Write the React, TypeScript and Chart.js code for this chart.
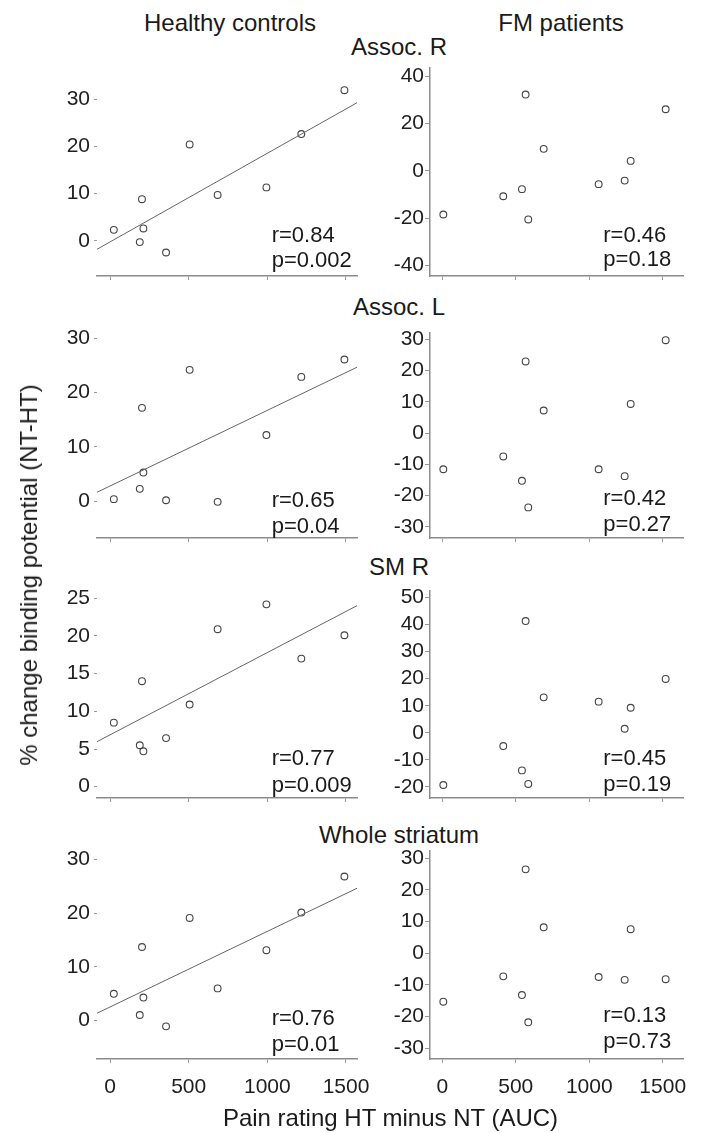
import React, { useEffect, useRef } from "react";
import { Chart, registerables } from "chart.js";
Chart.register(...registerables);

// ---------- data ----------
const hcPain = [24, 189, 203, 212, 356, 506, 684, 994, 1216, 1490];
const fmPain = [7, 415, 542, 567, 585, 690, 1064, 1241, 1282, 1520];

const regions = ["Assoc. R", "Assoc. L", "SM R", "Whole striatum"];

const hcAssocR = [2.3, -0.3, 8.8, 2.6, -2.5, 20.4, 9.7, 11.3, 22.6, 31.9];
const hcAssocL = [0.4, 2.3, 17.2, 5.3, 0.2, 24.2, -0.1, 12.2, 22.9, 26.1];
const hcSMR = [8.5, 5.5, 14.0, 4.7, 6.45, 10.9, 20.9, 24.2, 17.0, 20.1];
const hcWhole = [5.0, 1.06, 13.7, 4.3, -1.05, 19.1, 6.0, 13.1, 20.1, 26.8];

const fmAssocR = [-18.4, -10.7, -7.7, 32.2, -20.5, 9.3, -5.6, -4.1, 4.2, 26.0];
const fmAssocL = [-11.6, -7.5, -15.3, 22.9, -23.8, 7.2, -11.6, -13.8, 9.3, 29.7];
const fmSMR = [-19.3, -4.9, -13.9, 41.3, -18.9, 13.1, 11.5, 1.5, 9.25, 19.9];
const fmWhole = [-15.3, -7.3, -13.2, 26.5, -21.8, 8.2, -7.5, -8.4, 7.6, -8.2];

const hcFitIntercept = [-0.26, 2.82, 6.88, 2.55];
const hcFitSlope = [0.01879, 0.013926, 0.01092, 0.014053];

const hcStatsR = ["r=0.84", "r=0.65", "r=0.77", "r=0.76"];
const hcStatsP = ["p=0.002", "p=0.04", "p=0.009", "p=0.01"];
const fmStatsR = ["r=0.46", "r=0.42", "r=0.45", "r=0.13"];
const fmStatsP = ["p=0.18", "p=0.27", "p=0.19", "p=0.73"];

const xTicks = [0, 500, 1000, 1500];
const hcYTicks = [
  [0, 10, 20, 30],
  [0, 10, 20, 30],
  [0, 5, 10, 15, 20, 25],
  [0, 10, 20, 30],
];
const fmYTicks = [
  [-40, -20, 0, 20, 40],
  [-30, -20, -10, 0, 10, 20, 30],
  [-20, -10, 0, 10, 20, 30, 40, 50],
  [-30, -20, -10, 0, 10, 20, 30],
];

const hcSeries = [hcAssocR, hcAssocL, hcSMR, hcWhole];
const fmSeries = [fmAssocR, fmAssocL, fmSMR, fmWhole];

// ---------- layout ----------
const FONT = '"Liberation Sans", Arial, Helvetica, sans-serif';
const rowsTB = [
  [68, 276],
  [333, 538],
  [591, 798],
  [851, 1059],
];
const leftLR = [97, 357];
const rightLR = [430, 683];
const leftX = [-83, 1570];
const rightX = [-83.7, 1638];
const leftY = [
  [-7.48, 36.6],
  [-6.75, 30.98],
  [-1.5, 25.97],
  [-7.12, 31.54],
];
const rightY = [
  [-44.35, 43.4],
  [-33.6, 32.0],
  [-24.1, 52.4],
  [-33.4, 32.3],
];

type PanelProps = {
  L: number; T: number; R: number; B: number;
  xMin: number; xMax: number; yMin: number; yMax: number;
  yTicks: number[]; xs: number[]; ys: number[];
  showXLabels: boolean; showYBorder: boolean;
  fit?: [number, number];
  tickPad: number; tickLen: number;
};

const YW = 70;
const PT = 14;
const PR = 12;

function zeroPad(s: any) {
  s.paddingLeft = 0;
  s.paddingRight = 0;
  s.paddingTop = 0;
  s.paddingBottom = 0;
}

function Panel(p: PanelProps) {
  const ref = useRef<HTMLCanvasElement>(null);
  const XH = p.showXLabels ? 50 : 10;
  const width = p.R - p.L + YW + PR;
  const height = PT + (p.B - p.T) + XH;
  useEffect(() => {
    if (!ref.current) return;
    const datasets: any[] = [
      {
        data: p.xs.map((x, i) => ({ x, y: p.ys[i] })),
        pointStyle: "circle",
        pointRadius: 3.4,
        pointBorderWidth: 1.1,
        pointBorderColor: "#444",
        pointBackgroundColor: "rgba(0,0,0,0)",
        showLine: false,
      },
    ];
    if (p.fit) {
      const [a, b] = p.fit;
      datasets.unshift({
        data: [
          { x: p.xMin, y: a + b * p.xMin },
          { x: p.xMax, y: a + b * p.xMax },
        ],
        showLine: true,
        borderColor: "#666",
        borderWidth: 1,
        pointRadius: 0,
      });
    }
    const chart = new Chart(ref.current, {
      type: "scatter",
      data: { datasets },
      options: {
        responsive: false,
        animation: false,
        devicePixelRatio: 1,
        layout: { padding: { top: PT, right: PR, left: 0, bottom: 0 }, autoPadding: false },
        plugins: { legend: { display: false }, tooltip: { enabled: false }, title: { display: false } },
        scales: {
          x: {
            type: "linear",
            min: p.xMin,
            max: p.xMax,
            afterBuildTicks: (s: any) => {
              s.ticks = xTicks.map((v) => ({ value: v }));
            },
            afterFit: (s: any) => {
              s.height = XH;
              zeroPad(s);
            },
            grid: { drawOnChartArea: false, drawTicks: true, tickLength: 4, color: "#9a9a9a", lineWidth: 1 },
            border: { display: true, color: "#8c8c8c", width: 1.5 },
            ticks: {
              display: p.showXLabels,
              font: { family: FONT, size: 21 },
              color: "#1e1e1e",
              padding: 12,
              maxRotation: 0,
              autoSkip: false,
              callback: (v: any) => String(v),
            },
          },
          y: {
            type: "linear",
            min: p.yMin,
            max: p.yMax,
            afterBuildTicks: (s: any) => {
              s.ticks = p.yTicks.map((v) => ({ value: v }));
            },
            afterFit: (s: any) => {
              s.width = YW;
              zeroPad(s);
            },
            grid: { drawOnChartArea: false, drawTicks: true, tickLength: p.tickLen, color: "#9a9a9a", lineWidth: 1 },
            border: { display: p.showYBorder, color: "#8c8c8c", width: 1.5 },
            ticks: {
              font: { family: FONT, size: 21 },
              color: "#1e1e1e",
              padding: p.tickPad,
              autoSkip: false,
              callback: (v: any) => String(v),
            },
          },
        },
      } as any,
    });
    return () => chart.destroy();
  }, []);
  return (
    <canvas
      ref={ref}
      width={width}
      height={height}
      style={{ position: "absolute", left: p.L - YW, top: p.T - PT, width, height }}
    />
  );
}

const textBase: React.CSSProperties = {
  position: "absolute",
  fontFamily: FONT,
  color: "#1a1a1a",
  whiteSpace: "nowrap",
  margin: 0,
};

function Centered({ text, cx, cy, size }: { text: string; cx: number; cy: number; size: number }) {
  return (
    <div style={{ ...textBase, left: cx - 250, width: 500, textAlign: "center", top: cy - 14, lineHeight: "28px", fontSize: size }}>
      {text}
    </div>
  );
}

function Stat({ text, x, cy }: { text: string; x: number; cy: number }) {
  return (
    <div style={{ ...textBase, left: x, top: cy - 13, lineHeight: "26px", fontSize: 22 }}>{text}</div>
  );
}

const hcStatY = [
  [235, 260],
  [500, 526],
  [758.3, 785],
  [1018.3, 1044.3],
];
const fmStatY = [
  [235, 259.3],
  [498.3, 524],
  [758.3, 784.3],
  [1015, 1041],
];
const rowTitleY = [46.7, 306.7, 566.7, 835];

export default function App() {
  return (
    <div style={{ position: "absolute", left: 0, top: 0, width: 702, height: 1133, background: "#fff", overflow: "hidden" }}>
      <Centered text="Healthy controls" cx={230} cy={23} size={24} />
      <Centered text="FM patients" cx={561} cy={23} size={24} />
      {regions.map((r, i) => (
        <Centered key={"rt" + i} text={r} cx={399} cy={rowTitleY[i]} size={24} />
      ))}
      {rowsTB.map(([T, B], i) => (
        <React.Fragment key={"row" + i}>
          <Panel
            L={leftLR[0]} R={leftLR[1]} T={T} B={B}
            xMin={leftX[0]} xMax={leftX[1]} yMin={leftY[i][0]} yMax={leftY[i][1]}
            yTicks={hcYTicks[i]} xs={hcPain} ys={hcSeries[i]}
            showXLabels={i === 3} showYBorder={false}
            fit={[hcFitIntercept[i], hcFitSlope[i]]}
            tickPad={4} tickLen={3}
          />
          <Panel
            L={rightLR[0]} R={rightLR[1]} T={T} B={B}
            xMin={rightX[0]} xMax={rightX[1]} yMin={rightY[i][0]} yMax={rightY[i][1]}
            yTicks={fmYTicks[i]} xs={fmPain} ys={fmSeries[i]}
            showXLabels={i === 3} showYBorder={true}
            tickPad={1} tickLen={5}
          />
          <Stat text={hcStatsR[i]} x={271.7} cy={hcStatY[i][0]} />
          <Stat text={hcStatsP[i]} x={271.7} cy={hcStatY[i][1]} />
          <Stat text={fmStatsR[i]} x={603.3} cy={fmStatY[i][0]} />
          <Stat text={fmStatsP[i]} x={603.3} cy={fmStatY[i][1]} />
        </React.Fragment>
      ))}
      <Centered text="Pain rating HT minus NT (AUC)" cx={390.5} cy={1118} size={24} />
      <div
        style={{
          ...textBase,
          left: 28.5,
          top: 575,
          fontSize: 24,
          lineHeight: "28px",
          transform: "translate(-50%, -50%) rotate(-90deg)",
        }}
      >
        % change binding potential (NT-HT)
      </div>
    </div>
  );
}
